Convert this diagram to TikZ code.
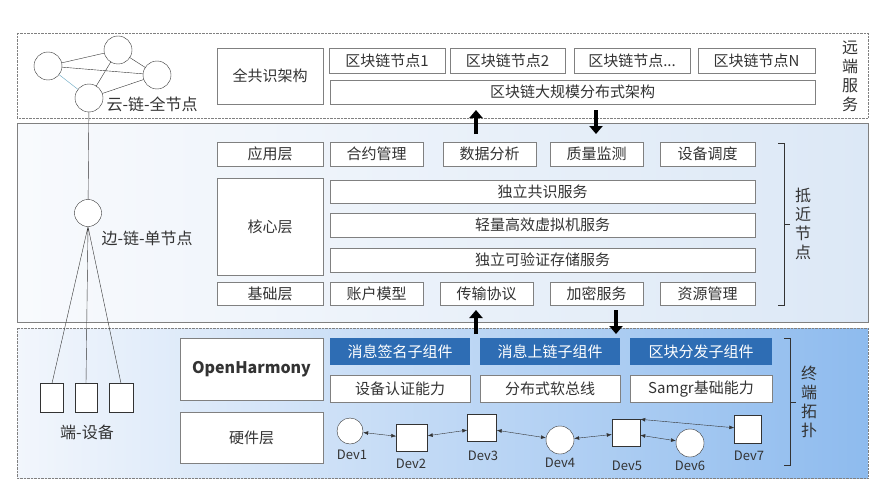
\documentclass[tikz,border=0pt]{standalone}
\usepackage{fontspec}
\setmainfont{Noto Sans CJK SC}
\usetikzlibrary{arrows.meta}
\definecolor{boxline}{HTML}{808080}
\definecolor{txt}{HTML}{333333}
\definecolor{hblue}{HTML}{2E6DB4}
\definecolor{edgeL}{HTML}{F8FAFD}
\definecolor{edgeR}{HTML}{DCE8F6}
\definecolor{termL}{HTML}{F2F6FC}
\definecolor{termR}{HTML}{8EBBEE}
\tikzset{
  box/.style={draw=boxline, thick, fill=white, text=txt, font=\fontsize{15}{17}\selectfont, inner sep=0pt},
  bluebox/.style={fill=hblue, text=white, font=\fontsize{15}{17}\selectfont, inner sep=0pt},
  dev/.style={draw=txt, fill=white, inner sep=0pt},
  devlink/.style={{Latex[length=5pt]}-{Latex[length=5pt]}, draw=txt},
  bigarrow/.style={-{Triangle[length=8pt,width=13pt]}, line width=4.5pt, black},
  side/.style={text=txt, font=\fontsize{16}{19}\selectfont, align=center, inner sep=0pt},
  lbl/.style={text=txt, font=\fontsize{16}{18}\selectfont},
}
\begin{document}
\begin{tikzpicture}[x=1pt,y=-1pt]
        \useasboundingbox (0,0) rectangle (890,500);
        %%BANDS
        % Cloud band
        \draw[boxline, densely dotted, fill=white] (17,33) rectangle (868,118);
        % Edge band
        \shade[left color=edgeL, right color=edgeR] (17,123) rectangle (868,322);
        \draw[boxline] (17,123) rectangle (868,322);
        % Terminal band
        \shade[left color=termL, right color=termR] (17,328) rectangle (868,478);
        \draw[boxline, densely dotted] (17,328) rectangle (868,478);

        %%CLOUD LAYER
        \node[box, minimum width=106, minimum height=56] (consensus) at (270,76) {全共识架构};
        \node[box, minimum width=116, minimum height=25] (bc1) at (387,60.5) {区块链节点1};
        \node[box, minimum width=115, minimum height=25] (bc2) at (507.5,60.5) {区块链节点2};
        \node[box, minimum width=116, minimum height=25] (bc3) at (632,60.5) {区块链节点...};
        \node[box, minimum width=117, minimum height=25] (bcn) at (756.5,60.5) {区块链节点N};
        \node[box, minimum width=485, minimum height=24] (bcall) at (572.5,92) {区块链大规模分布式架构};
        \node[side] (far) at (850,76) {远\\端\\服\\务};
        \draw[bigarrow] (476,134) -- (476,110);
        \draw[bigarrow] (596,110) -- (596,134);

        %%EDGE LAYER
        \node[box, minimum width=106, minimum height=24] (app) at (270,154) {应用层};
        \node[box, minimum width=93, minimum height=24] (contract) at (376.5,154) {合约管理};
        \node[box, minimum width=93, minimum height=24] (analysis) at (489.5,154) {数据分析};
        \node[box, minimum width=93, minimum height=24] (quality) at (596.5,154) {质量监测};
        \node[box, minimum width=95, minimum height=24] (schedule) at (707.5,154) {设备调度};
        \node[box, minimum width=106, minimum height=97] (core) at (270,226.5) {核心层};
        \node[box, minimum width=425, minimum height=23] (svc1) at (542.5,191.5) {独立共识服务};
        \node[box, minimum width=425, minimum height=24] (svc2) at (542.5,225) {轻量高效虚拟机服务};
        \node[box, minimum width=425, minimum height=24] (svc3) at (542.5,260) {独立可验证存储服务};
        \node[box, minimum width=106, minimum height=23] (base) at (270,293.5) {基础层};
        \node[box, minimum width=93, minimum height=23] (account) at (376.5,293.5) {账户模型};
        \node[box, minimum width=93, minimum height=23] (transport) at (486.5,293.5) {传输协议};
        \node[box, minimum width=93, minimum height=23] (crypto) at (596.5,293.5) {加密服务};
        \node[box, minimum width=95, minimum height=23] (resource) at (707.5,293.5) {资源管理};
        \draw[txt] (778,143) -- (784,143) -- (784,305) -- (778,305) (784,224) -- (790,224);
        \node[side] (near) at (803,224) {抵\\近\\节\\点};
        \draw[bigarrow] (476,334) -- (476,310);
        \draw[bigarrow] (616,310) -- (616,334);

        %%TERMINAL LAYER
        \node[box, minimum width=143, minimum height=62, font=\bfseries\fontsize{16}{18}\selectfont] (oh) at (251.5,369) {OpenHarmony};
        \node[bluebox, minimum width=140, minimum height=27] (sign) at (400,351.5) {消息签名子组件};
        \node[bluebox, minimum width=140, minimum height=27] (onchain) at (550,351.5) {消息上链子组件};
        \node[bluebox, minimum width=142, minimum height=27] (dist) at (701,351.5) {区块分发子组件};
        \node[box, minimum width=140, minimum height=27] (auth) at (400,389) {设备认证能力};
        \node[box, minimum width=140, minimum height=27] (bus) at (550,389) {分布式软总线};
        \node[box, minimum width=142, minimum height=27] (samgr) at (701,389) {Samgr基础能力};
        \node[box, minimum width=143, minimum height=51] (hw) at (251.5,437.5) {硬件层};
        % Devices
        \node[dev, circle, minimum size=26] (d1) at (350,431) {};
        \node[dev, minimum width=31, minimum height=27] (d2) at (412,438) {};
        \node[dev, minimum width=29, minimum height=27] (d3) at (482,428) {};
        \node[dev, circle, minimum size=28] (d4) at (560,440) {};
        \node[dev, minimum width=28, minimum height=27] (d5) at (626,433) {};
        \node[dev, circle, minimum size=28] (d6) at (690,443) {};
        \node[dev, minimum width=27, minimum height=28] (d7) at (748,429) {};
        \foreach \i/\x/\y in {1/352/455, 2/411/464, 3/483/456, 4/560/463, 5/627/466, 6/690/466, 7/749/456}
          \node[text=txt, font=\fontsize{13}{15}\selectfont] (l\i) at (\x,\y) {Dev\i};
        \draw[devlink] (d1) -- (d2);
        \draw[devlink] (d2) -- (d3);
        \draw[devlink] (d3) -- (d4);
        \draw[devlink] (d4) -- (d5);
        \draw[devlink] (d5) -- (d6);
        \draw[devlink] (d5.north east) -- (d7);
        \draw[txt] (784,338) -- (790,338) -- (790,465) -- (784,465) (790,402) -- (796,402);
        \node[side] (term) at (809,402) {终\\端\\拓\\扑};

        %%TOPOLOGY
        \node[dev, circle, minimum size=28] (ca) at (48,66) {};
        \node[dev, circle, minimum size=28] (cb) at (118,50) {};
        \node[dev, circle, minimum size=28] (cc) at (157,75) {};
        \node[dev, circle, minimum size=28] (cd) at (89,98) {};
        \draw[txt] (ca) -- (cb) (ca) -- (cc) (cb) -- (cd) (cd) -- (cc) (cb) -- (cc);
        \draw[cyan!50!gray] (ca) -- (cd);
        \node[lbl, anchor=west] (cloudlbl) at (103,104) {云-链-全节点};
        \node[dev, circle, minimum size=27] (edge) at (88,213) {};
        \draw[txt] (cd) -- (edge);
        \node[lbl, anchor=west] (edgelbl) at (98,238) {边-链-单节点};
        \node[dev, minimum width=23, minimum height=29] (t1) at (52,398) {};
        \node[dev, minimum width=22, minimum height=29] (t2) at (86,398) {};
        \node[dev, minimum width=24, minimum height=29] (t3) at (121,398) {};
        \draw[txt] (edge.south) -- (t1.north) (edge.south) -- (t2.north) (edge.south) -- (t3.north);
        \node[lbl] (termlbl) at (87,432) {端-设备};
\end{tikzpicture}
\end{document}
